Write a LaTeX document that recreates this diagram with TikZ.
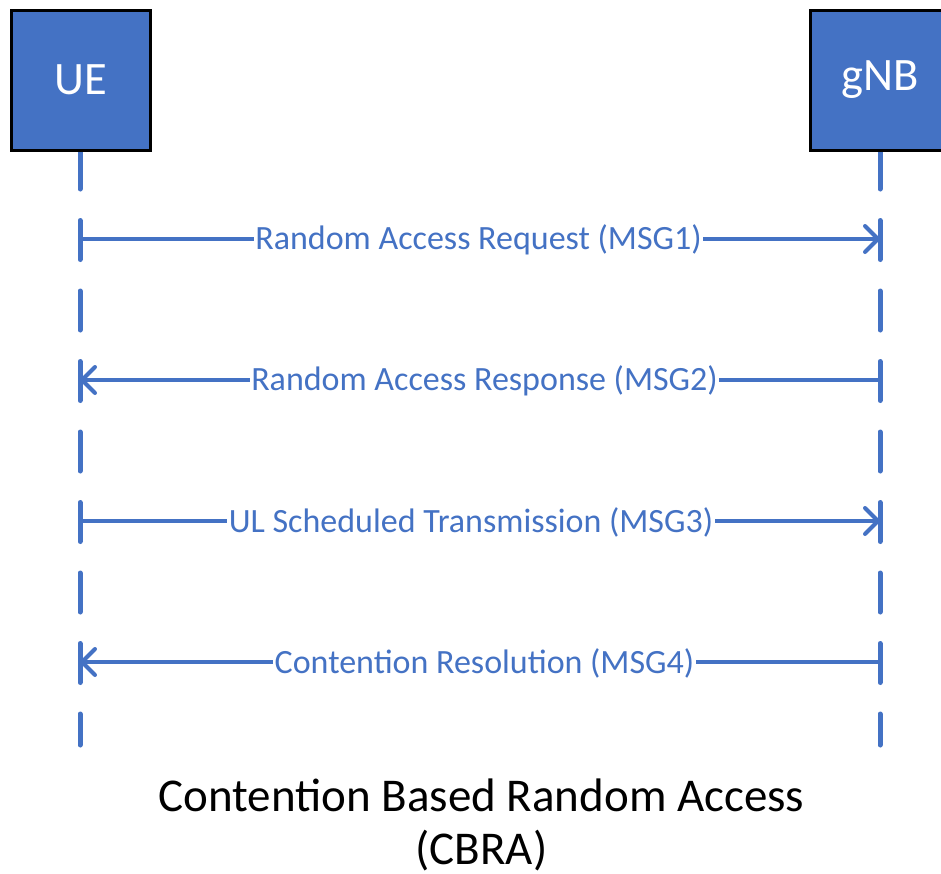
\documentclass[tikz,border=0pt]{standalone}
\usepackage{fontspec}
\setmainfont{Carlito}
\usetikzlibrary{arrows.meta}
\definecolor{accblue}{HTML}{4472C4}
\begin{document}
\begin{tikzpicture}[x=1pt,y=-1pt,
  entity/.style={draw=black,line width=3pt,fill=accblue,minimum width=139pt,minimum height=140pt,text=white,font=\fontsize{46.5}{52}\selectfont,inner sep=0pt},
  lifeline/.style={draw=accblue,line width=5pt,line cap=round,dash pattern=on 39pt off 31.5pt},
  msg/.style={draw=accblue,line width=4pt,-{Straight Barb[length=13pt,width=26pt,line width=4pt,round]}},
  msglabel/.style={fill=white,text=accblue,inner sep=1.5pt,font=\fontsize{34}{40}\selectfont},
  caption/.style={align=center,font=\fontsize{47}{53}\selectfont,text=black,inner sep=0pt}]
\useasboundingbox (0,0) rectangle (941,873);
% lifeline endpoints
\coordinate (ueTop) at (80,150);
\coordinate (ueBot) at (80,745);
\coordinate (gnbTop) at (880,150);
\coordinate (gnbBot) at (880,745);
\draw[lifeline] (ueTop) -- (ueBot);
\draw[lifeline] (gnbTop) -- (gnbBot);
% boxes
\node[entity] (ue) at (81,80) {UE};
\node[entity] (gnb) at (880,80) {gNB};
% message anchors
\coordinate (u1) at (80,239); \coordinate (g1) at (880,239);
\coordinate (u2) at (80,380); \coordinate (g2) at (880,380);
\coordinate (u3) at (80,521); \coordinate (g3) at (880,521);
\coordinate (u4) at (80,662); \coordinate (g4) at (880,662);
\draw[msg] (u1) -- node[msglabel,xshift=-1.5pt,yshift=-1pt] {Random Access Request (MSG1)} (g1);
\draw[msg] (g2) -- node[msglabel,xshift=4.5pt,yshift=-1pt] {Random Access Response (MSG2)} (u2);
\draw[msg] (u3) -- node[msglabel,xshift=-9pt,yshift=-1pt] {UL Scheduled Transmission (MSG3)} (g3);
\draw[msg] (g4) -- node[msglabel,xshift=4.5pt,yshift=-1pt] {Contention Resolution (MSG4)} (u4);
% caption
\node[caption] (cap) at (481.5,825) {Contention Based Random Access\\(CBRA)};
\end{tikzpicture}
\end{document}
